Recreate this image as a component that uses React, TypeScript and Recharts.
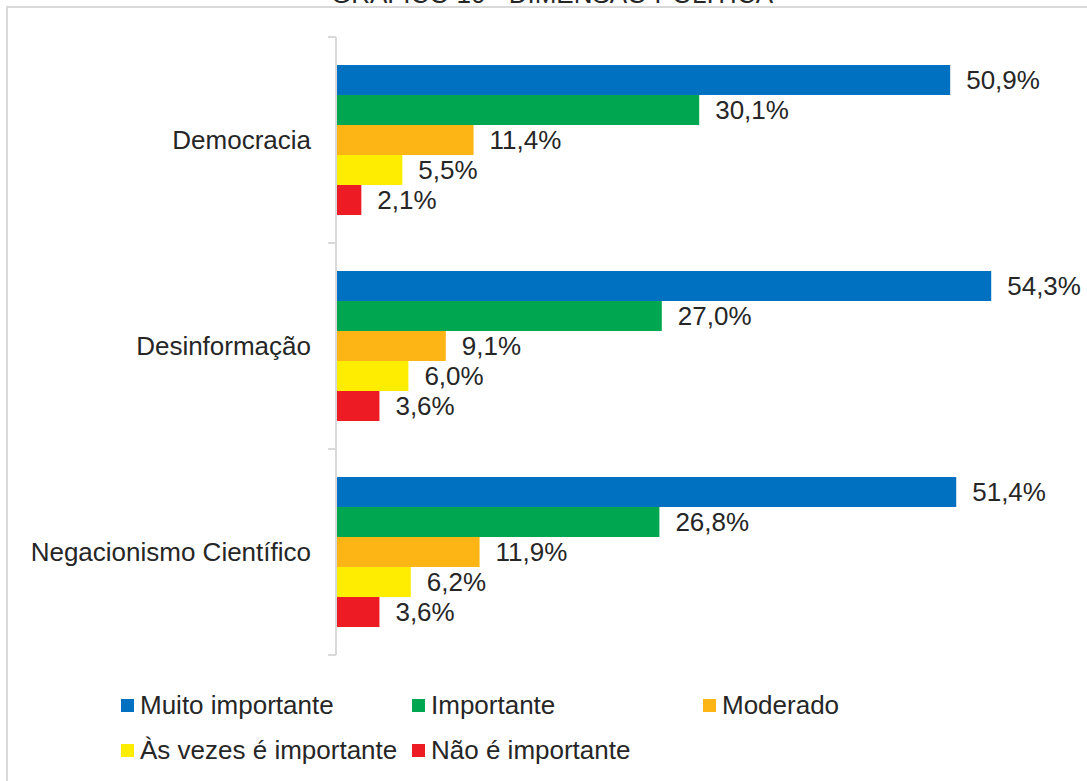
import { BarChart, Bar, XAxis, YAxis, LabelList } from "recharts";

const categories = ["Democracia", "Desinformação", "Negacionismo Científico"];

const seriesNames = [
  "Muito importante",
  "Importante",
  "Moderado",
  "Às vezes é importante",
  "Não é importante",
];
const seriesKeys = ["muito", "importante", "moderado", "asVezes", "nao"];
const seriesColors = ["#0070C0", "#00A650", "#FDB515", "#FFED00", "#ED1C24"];

const muitoImportante = [50.9, 54.3, 51.4];
const importante = [30.1, 27.0, 26.8];
const moderado = [11.4, 9.1, 11.9];
const asVezes = [5.5, 6.0, 6.2];
const naoImportante = [2.1, 3.6, 3.6];

const title = "GRÁFICO 10 - DIMENSÃO POLÍTICA";

const data = categories.map((name, i) => ({
  name,
  muito: muitoImportante[i],
  importante: importante[i],
  moderado: moderado[i],
  asVezes: asVezes[i],
  nao: naoImportante[i],
}));

const FONT = "'Liberation Sans', Arial, sans-serif";
const TEXT = "#262626";
const AXIS_X = 336;
const TOP = 37;
const BOTTOM = 655;
const HALF_BAND = (BOTTOM - TOP) / categories.length / 2;

const fmt = (v: number) => v.toFixed(1).replace(".", ",") + "%";

function CategoryTick(props: any) {
  const { y, payload, index } = props;
  return (
    <g>
      <text
        x={AXIS_X - 25}
        y={y}
        textAnchor="end"
        dominantBaseline="central"
        fontFamily={FONT}
        fontSize={26}
        fill={TEXT}
      >
        {payload.value}
      </text>
      <line x1={AXIS_X - 8} x2={AXIS_X} y1={y - HALF_BAND} y2={y - HALF_BAND} stroke="#d9d9d9" strokeWidth={2} />
      {index === categories.length - 1 && (
        <line x1={AXIS_X - 8} x2={AXIS_X} y1={y + HALF_BAND} y2={y + HALF_BAND} stroke="#d9d9d9" strokeWidth={2} />
      )}
    </g>
  );
}

export default function App() {
  return (
    <div style={{ position: "fixed", left: 0, top: 0, width: 1087, height: 781, background: "#fff", overflow: "hidden" }}>
      {/* frame */}
      <div
        style={{
          position: "absolute",
          left: 6,
          top: 6,
          width: 1200,
          height: 900,
          borderTop: "2px solid #d9d9d9",
          borderLeft: "2px solid #d9d9d9",
        }}
      />
      <svg style={{ position: "absolute", left: 0, top: 0 }} width={1087} height={40}>
        <text x={552} y={3} textAnchor="middle" fontFamily={FONT} fontSize={26} fill={TEXT}>
          {title}
        </text>
      </svg>
      <div style={{ position: "absolute", left: 0, top: 0 }}>
        <BarChart
          width={1087}
          height={781}
          data={data}
          layout="vertical"
          margin={{ top: TOP, right: 27, bottom: 781 - BOTTOM, left: 0 }}
          barCategoryGap={28}
          barGap={0}
        >
          <XAxis type="number" domain={[0, 60]} hide />
          <YAxis
            type="category"
            dataKey="name"
            width={AXIS_X}
            axisLine={{ stroke: "#d9d9d9", strokeWidth: 2 }}
            tickLine={false}
            tick={<CategoryTick />}
            interval={0}
          />
          {seriesKeys.map((key, i) => (
            <Bar key={key} dataKey={key} name={seriesNames[i]} fill={seriesColors[i]} isAnimationActive={false}>
              <LabelList
                dataKey={key}
                position="right"
                offset={16}
                formatter={(v: any) => fmt(Number(v))}
                style={{ fontFamily: FONT, fontSize: 26, fill: TEXT }}
              />
            </Bar>
          ))}
        </BarChart>
      </div>
      {/* legend */}
      {seriesNames.map((name, i) => {
        const col = i % 3;
        const row = Math.floor(i / 3);
        return (
          <div
            key={name}
            style={{
              position: "absolute",
              left: 121 + col * 291,
              top: 705 + row * 45 - 15,
              height: 30,
              display: "flex",
              alignItems: "center",
              fontFamily: FONT,
              fontSize: 26,
              color: TEXT,
              whiteSpace: "nowrap",
            }}
          >
            <span style={{ display: "inline-block", width: 13, height: 13, background: seriesColors[i], marginRight: 6 }} />
            {name}
          </div>
        );
      })}
    </div>
  );
}
